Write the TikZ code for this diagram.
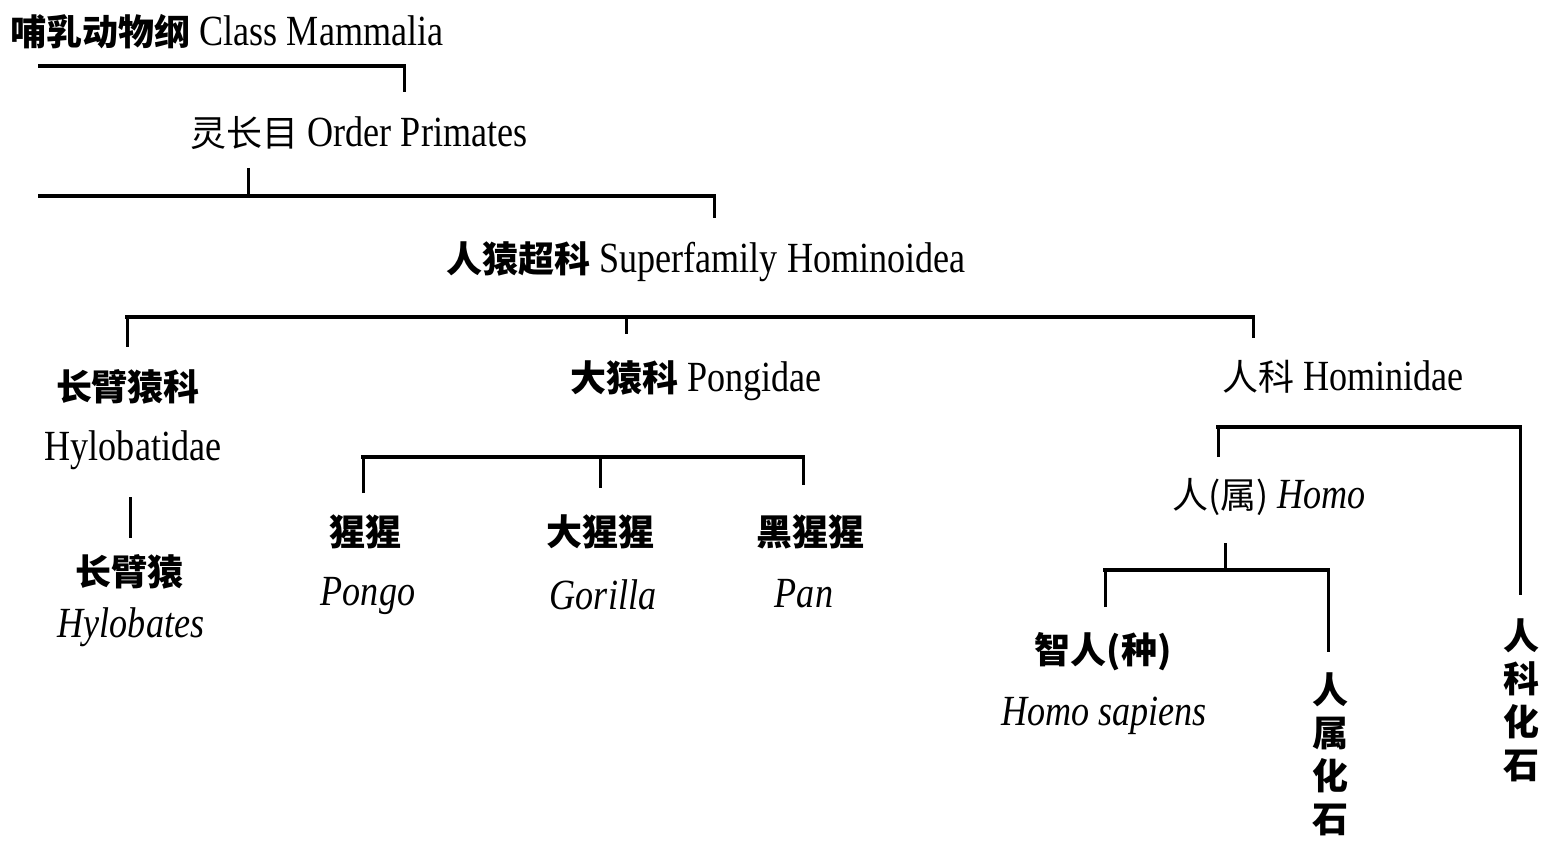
\documentclass[tikz,border=0pt]{standalone}
\usepackage{fontspec}
\setmainfont{Liberation Serif}[FakeStretch=0.84]
\newfontfamily\cjk{Noto Sans CJK SC}
\begin{document}
\begin{tikzpicture}[x=1pt,y=-1pt,
  lbl/.style={inner sep=0pt, font=\fontsize{43}{47}\selectfont},
  cj/.style={inner sep=0pt, font=\fontsize{36}{43}\selectfont\cjk\bfseries},
  cjv/.style={inner sep=0pt, align=center, font=\fontsize{36}{43}\selectfont\cjk\bfseries},
  lat/.style={inner sep=0pt, font=\fontsize{43}{47}\selectfont\itshape},
  latr/.style={inner sep=0pt, font=\fontsize{43}{47}\selectfont},
  hline/.style={line width=4pt, line cap=rect},
  vline/.style={line width=3pt}]
\useasboundingbox (0,0) rectangle (1543,842);
\fill[white] (0,0) rectangle (1543,842);

% labels
\node[lbl] (mam) at (227,32) {{\cjk\bfseries\fontsize{36}{43}\selectfont 哺乳动物纲} Class Mammalia};
\node[lbl] (pri) at (359,133) {{\cjk\fontsize{36}{43}\selectfont 灵长目} Order Primates};
\node[lbl] (sup) at (706,262) {{\cjk\bfseries\fontsize{36}{43}\selectfont 人猿超科} Superfamily Hominoidea};
\node[cj] (hylc) at (128,387) {长臂猿科};
\node[latr] (hyll) at (133,450) {Hylobatidae};
\node[cj] (hybc) at (129,572) {长臂猿};
\node[lat] (hybl) at (131,627) {Hylobates};
\node[lbl] (pon) at (696,381) {{\cjk\bfseries\fontsize{36}{43}\selectfont 大猿科} Pongidae};
\node[cj] (pgc) at (365,532) {猩猩};
\node[lat] (pgl) at (368,596) {Pongo};
\node[cj] (goc) at (600,532) {大猩猩};
\node[lat] (gol) at (603,595) {Gorilla};
\node[cj] (pac) at (810,532) {黑猩猩};
\node[lat] (pal) at (804,594) {Pan};
\node[lbl] (hmd) at (1343,377) {{\cjk\fontsize{36}{43}\selectfont 人科} Hominidae};
\node[lbl] (homo) at (1269,497) {{\cjk\fontsize{36}{43}\selectfont 人(属)} \textit{Homo}};
\node[cj] (sapc) at (1103,652) {智人(种)};
\node[lat] (sapl) at (1104,716) {Homo sapiens};
\node[cjv] (fos1) at (1330,754) {人\\属\\化\\石};
\node[cjv] (fos2) at (1521,700) {人\\科\\化\\石};

% bracket coordinates
\coordinate (a1) at (40,66);   \coordinate (a2) at (404,92);
\coordinate (b0) at (248,168); \coordinate (b0b) at (248,196);
\coordinate (b1) at (40,196);  \coordinate (b2) at (714,218);
\coordinate (c1) at (127,347); \coordinate (c2) at (1253,317); \coordinate (c3) at (1253,338);
\coordinate (c4) at (626,317); \coordinate (c5) at (626,334);
\coordinate (d1) at (363,493); \coordinate (d2) at (803,457); \coordinate (d3) at (803,485);
\coordinate (d4) at (600,457); \coordinate (d5) at (600,488);
\coordinate (e1) at (130,497); \coordinate (e2) at (130,538);
\coordinate (f1) at (1218,457); \coordinate (f2) at (1520,427); \coordinate (f3) at (1520,595);
\coordinate (g0) at (1225,543); \coordinate (g0b) at (1225,570);
\coordinate (g1) at (1105,607); \coordinate (g2) at (1328,570); \coordinate (g3) at (1328,652);

% connectors
\draw[hline] (a1) -- (a1 -| a2);
\draw[vline] (a1 -| a2) -- (a2);
\draw[vline] (b0) -- (b0b);
\draw[hline] (b1) -- (b1 -| b2);
\draw[vline] (b1 -| b2) -- (b2);
\draw[hline] (c1 |- c2) -- (c2);
\draw[vline] (c1) -- (c1 |- c2);
\draw[vline] (c2) -- (c3);
\draw[vline] (c4) -- (c5);
\draw[hline] (d1 |- d2) -- (d2);
\draw[vline] (d1) -- (d1 |- d2);
\draw[vline] (d2) -- (d3);
\draw[vline] (d4) -- (d5);
\draw[vline] (e1) -- (e2);
\draw[hline] (f1 |- f2) -- (f2);
\draw[vline] (f1) -- (f1 |- f2);
\draw[vline] (f2) -- (f3);
\draw[vline] (g0) -- (g0b);
\draw[hline] (g1 |- g2) -- (g2);
\draw[vline] (g1) -- (g1 |- g2);
\draw[vline] (g2) -- (g3);
\end{tikzpicture}
\end{document}
